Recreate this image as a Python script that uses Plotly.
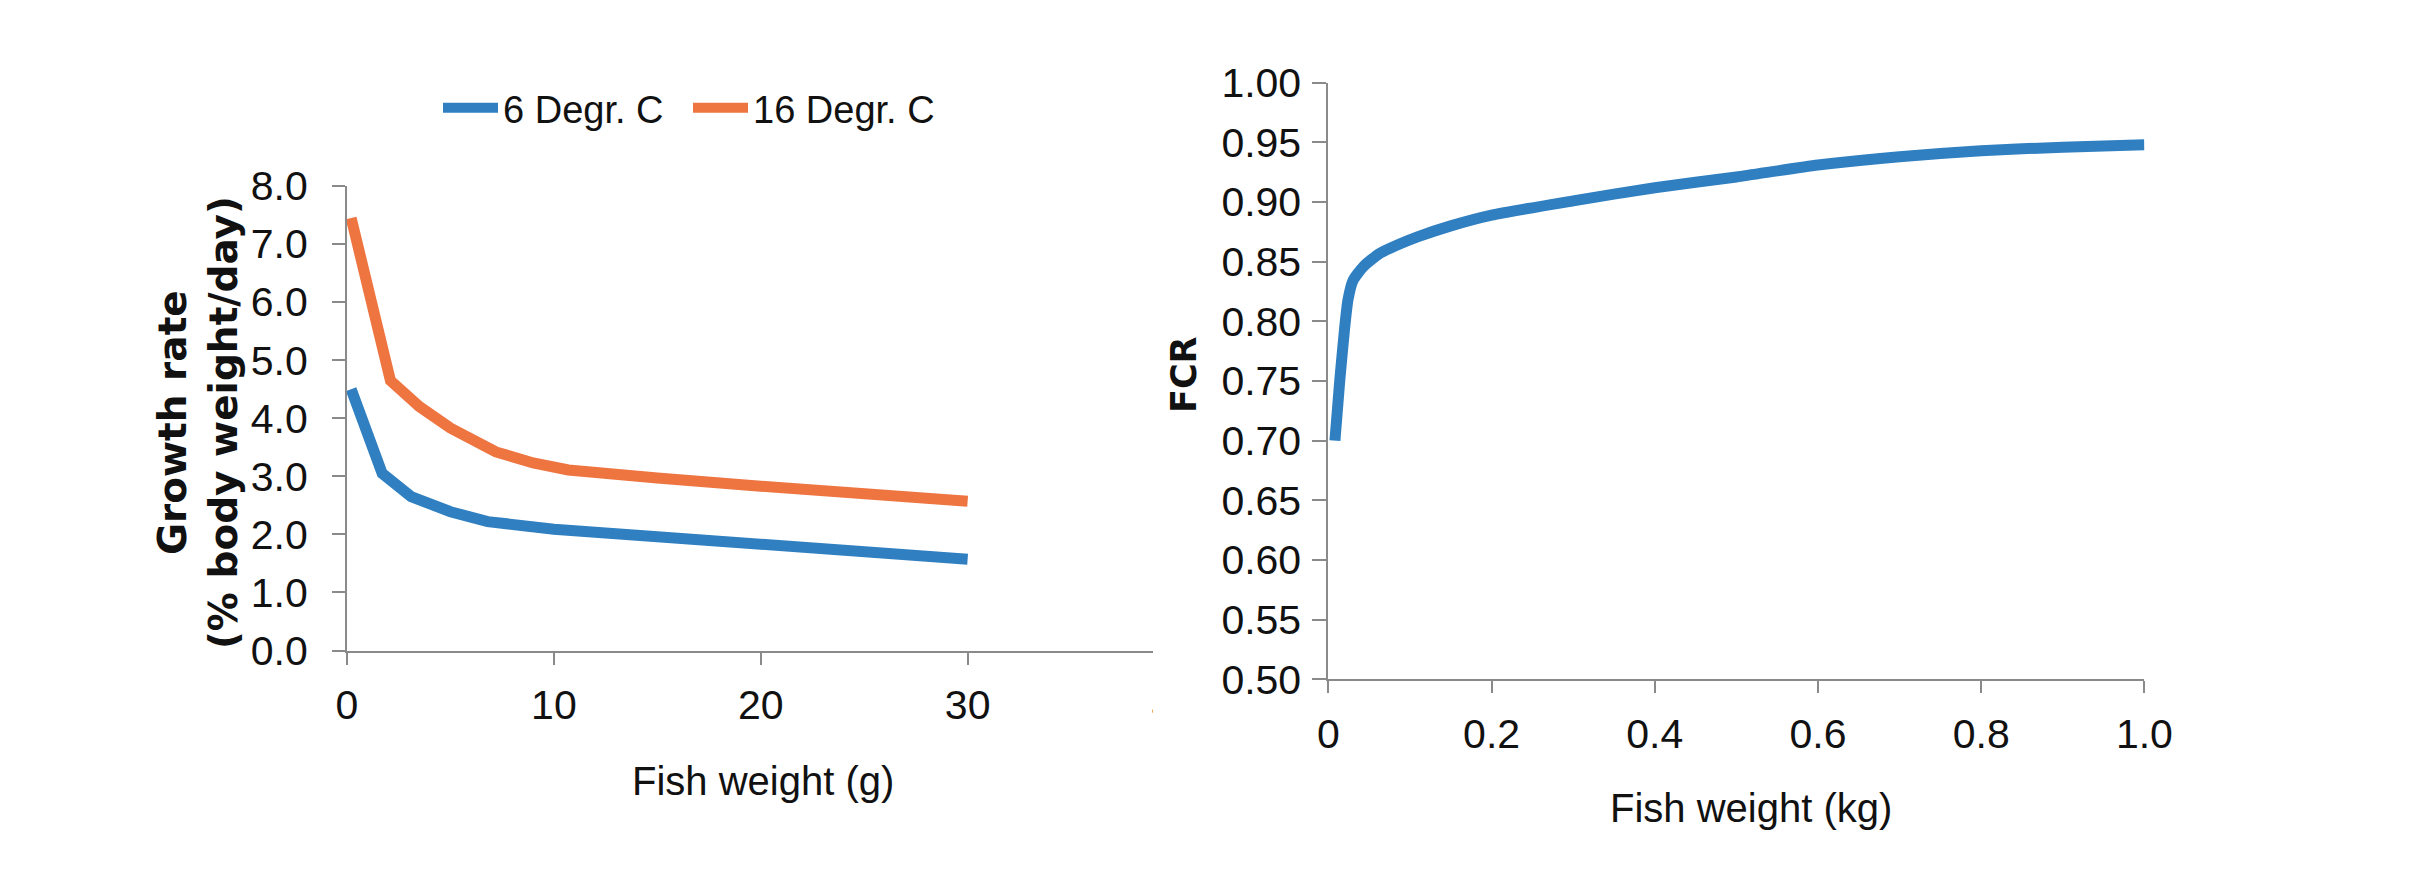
import plotly.graph_objects as go

W, H = 2402, 861       # page body has an 8 px margin inside the 2410x869 window
OFF = 8

# ---- data ----
g_x_6 = [0.2, 1.7, 3.1, 5, 6.8, 10, 15, 20, 25, 30]
g_y_6 = [4.5, 3.05, 2.65, 2.39, 2.22, 2.09, 1.96, 1.82, 1.69, 1.57]
g_x_16 = [0.2, 2.1, 3.5, 5, 7.2, 9, 10.7, 12, 15, 20, 25, 30]
g_y_16 = [7.45, 4.65, 4.2, 3.83, 3.42, 3.23, 3.11, 3.06, 2.97, 2.83, 2.70, 2.57]
fcr_x = [0.008, 0.014, 0.02, 0.024, 0.03, 0.043, 0.063, 0.088, 0.11, 0.15, 0.2,
         0.3, 0.4, 0.5, 0.6, 0.7, 0.8, 0.9, 1.0]
fcr_y = [0.70, 0.751, 0.795, 0.818, 0.834, 0.846, 0.857, 0.865, 0.871, 0.880, 0.889,
         0.901, 0.912, 0.921, 0.931, 0.938, 0.943, 0.946, 0.948]
series_names = ["6 Degr. C", "16 Degr. C"]
left_xticks = [0, 10, 20, 30, 40]
left_yticks = [0, 1, 2, 3, 4, 5, 6, 7, 8]
right_xticks = [0, 0.2, 0.4, 0.6, 0.8, 1.0]
right_xtext = ["0", "0.2", "0.4", "0.6", "0.8", "1.0"]
right_yticks = [0.50, 0.55, 0.60, 0.65, 0.70, 0.75, 0.80, 0.85, 0.90, 0.95, 1.00]

BLUE = "#2f7fc1"
ORANGE = "#ee7440"
AX = "#8a8a8a"
TXT = "#111111"
TICKFONT = "Liberation Sans"
BOLDFONT = "DejaVu Sans"


def px(x):
    return (x - OFF) / W


def py(y):
    return 1 - (y - OFF) / H


fig = go.Figure()
fig.add_trace(go.Scatter(x=g_x_6, y=g_y_6, mode="lines", name=series_names[0],
                         line=dict(color=BLUE, width=11), xaxis="x", yaxis="y"))
fig.add_trace(go.Scatter(x=g_x_16, y=g_y_16, mode="lines", name=series_names[1],
                         line=dict(color=ORANGE, width=11), xaxis="x", yaxis="y"))
fig.add_trace(go.Scatter(x=fcr_x, y=fcr_y, mode="lines", showlegend=False,
                         line=dict(color=BLUE, width=11, shape="spline", smoothing=0.6),
                         xaxis="x2", yaxis="y2"))

axis_common = dict(showline=True, linecolor=AX, linewidth=2, ticks="outside",
                   tickcolor=AX, tickwidth=2, showgrid=False, zeroline=False,
                   automargin=False,
                   tickfont=dict(family=TICKFONT, size=41, color=TXT))

fig.update_layout(
    width=W, height=H,
    margin=dict(l=0, r=0, t=0, b=0, pad=0, autoexpand=False),
    paper_bgcolor="white", plot_bgcolor="white",
    showlegend=True,
    legend=dict(orientation="h", x=px(438), y=py(108), xanchor="left", yanchor="middle",
                font=dict(family=TICKFONT, size=38, color=TXT), itemwidth=55,
                entrywidth=180, entrywidthmode="pixels", bgcolor="rgba(0,0,0,0)"),
    xaxis=dict(domain=[px(347), px(1174.5)], range=[0, 40], tickvals=left_xticks,
               ticklen=12, ticklabelstandoff=5, anchor="y", **axis_common),
    yaxis=dict(domain=[py(650.5), py(186)], range=[0, 8], tickvals=left_yticks,
               tickformat=".1f", ticklen=13, ticklabelstandoff=16, anchor="x",
               **axis_common),
    xaxis2=dict(domain=[px(1328.4), px(2144.4)], range=[0, 1], tickvals=right_xticks,
                ticktext=right_xtext, ticklen=12, ticklabelstandoff=5, anchor="y2",
                **axis_common),
    yaxis2=dict(domain=[py(679.3), py(82.7)], range=[0.5, 1.0], tickvals=right_yticks,
                tickformat=".2f", ticklen=14, ticklabelstandoff=3, anchor="x2",
                **axis_common),
)

# white cover: the reference crops the left chart just past x = 39
fig.add_shape(type="rect", xref="paper", yref="paper",
              x0=px(1153), x1=px(1215), y0=py(760), y1=py(640),
              fillcolor="white", line=dict(width=0), layer="above")

ann = [
    dict(text="Growth rate<br>(% body weight/day)", x=px(198), y=py(423), textangle=-90,
         font=dict(family=BOLDFONT, size=39, color=TXT, weight="bold")),
    dict(text="FCR", x=px(1184), y=py(375), textangle=-90,
         font=dict(family=BOLDFONT, size=35, color=TXT, weight="bold")),
    dict(text="Fish weight (g)", x=px(763), y=py(781),
         font=dict(family=TICKFONT, size=40, color=TXT)),
    dict(text="Fish weight (kg)", x=px(1751), y=py(808),
         font=dict(family=TICKFONT, size=40, color=TXT)),
]
for a in ann:
    fig.add_annotation(xref="paper", yref="paper", showarrow=False,
                       xanchor="center", yanchor="middle", **a)

fig.write_html("out.html")
